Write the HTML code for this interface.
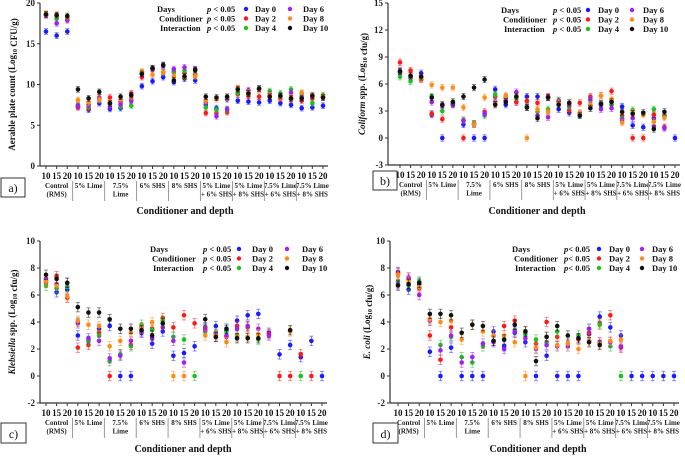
<!DOCTYPE html>
<html><head><meta charset="utf-8">
<style>
html,body{margin:0;padding:0;background:#fff;}
svg{display:block;font-family:"Liberation Serif",serif;font-weight:bold;}
</style></head>
<body>
<svg id="chart" width="685" height="456" viewBox="0 0 685 456" xmlns="http://www.w3.org/2000/svg"></svg>
<script>
// ---------- data ----------
const groups = [["Control","(RMS)"],["5% Lime"],["7.5%","Lime"],["6% SHS"],["8% SHS"],["5% Lime","+ 6% SHS"],["5% Lime","+ 8% SHS"],["7.5% Lime","+ 6% SHS"],["7.5% Lime","+ 8% SHS"]];
const depths = ["10","15","20"];
const seriesNames = ["Day 0","Day 2","Day 4","Day 6","Day 8","Day 10"];
const seriesColors = ["#1a1aff","#ff1a1a","#1fbf1f","#a020f0","#ff8c1a","#111111"];
const N = null;

const aDay0 = [16.5,16.0,16.5, 7.3,6.9,7.7, 7.0,7.1,8.1, 9.8,10.4,10.9, 10.3,10.7,10.5, 7.5,7.1,8.2, 8.0,7.9,7.8, 8.0,7.7,7.5, 7.1,7.2,7.4];
const aDay2 = [18.5,18.4,17.9, 7.2,7.1,8.4, 8.4,7.9,8.9, 10.9,11.9,11.5, 11.5,11.4,11.2, 6.5,6.5,6.6, 8.8,8.6,8.5, 8.6,8.3,8.2, 8.0,8.3,8.4];
const aDay4 = [18.6,18.1,18.2, 7.5,7.3,8.1, 7.6,7.3,7.4, 11.5,12.0,11.5, 11.6,11.7,11.7, 7.2,6.9,6.9, 9.0,8.9,9.4, 9.2,8.9,9.4, 8.9,7.7,8.7];
const aDay6 = [18.5,17.5,17.9, 7.4,7.5,8.2, 7.3,7.6,8.0, 11.3,11.9,12.3, 11.9,12.1,11.9, 7.8,6.1,7.0, 9.5,9.3,9.5, 8.8,8.5,9.0, 8.4,8.6,8.5];
const aDay8 = [18.7,18.6,18.3, 8.1,7.8,8.1, 7.8,8.2,8.5, 11.6,11.2,11.5, 11.0,10.9,11.0, 8.0,8.2,8.4, 9.6,9.0,9.4, 8.7,8.4,8.4, 9.0,8.7,8.5];
const aDay10= [18.6,18.5,18.4, 9.4,8.3,9.1, 7.7,8.5,8.7, 11.3,12.0,12.4, 10.5,11.0,11.8, 8.5,8.4,8.5, 9.4,8.9,9.5, 8.5,8.6,8.3, 8.3,8.6,8.4];

const bDay0 = [7.2,6.7,7.2, 2.6,0,3.7, 1.5,0,0, 5.4,3.7,4.0, 4.6,4.6,4.5, 3.2,2.8,2.6, 3.6,3.7,4.1, 3.5,1.4,1.2, 2.2,2.5,0];
const bDay2 = [8.4,7.5,6.5, 2.7,2.1,3.8, 0,1.6,2.9, 4.6,4.5,4.0, 4.1,3.9,4.6, 4.0,3.1,3.9, 4.6,4.7,5.2, 2.5,0,0, 2.6,1.2,N];
const bDay4 = [6.8,6.3,6.8, 4.6,3.0,4.0, 2.0,1.6,2.5, 4.8,4.6,4.5, 3.5,2.9,3.2, 4.2,3.5,2.6, 4.2,3.8,3.7, 2.2,3.1,N, 3.2,2.4,N];
const bDay6 = [7.5,6.9,6.7, 4.0,3.6,3.8, 1.9,1.5,2.7, 4.0,4.2,5.1, 3.4,2.5,2.3, 4.1,3.7,2.7, 4.3,3.2,3.3, 2.0,2.2,N, 1.3,1.1,N];
const bDay8 = [7.4,6.9,6.6, 5.9,5.6,5.6, 3.4,1.5,4.5, 3.8,4.7,4.6, 0,3.2,2.9, 3.9,3.9,2.8, 3.7,4.7,4.3, 1.7,2.8,2.6, 1.8,2.3,N];
const bDay10= [7.4,6.9,6.8, 4.5,3.7,4.0, 4.6,5.6,6.5, 3.7,4.0,4.6, 3.4,2.2,4.5, 3.7,3.9,2.5, 3.3,3.8,4.0, 2.9,2.7,2.8, 1.0,2.9,N];

const cDay0 = [7.1,6.2,6.4, 3.0,2.6,3.5, 3.7,0,0, 3.2,2.4,3.3, 1.5,1.7,2.2, 3.6,3.7,3.4, 4.1,4.5,4.6, 3.2,1.6,2.3, 1.4,2.6,0];
const cDay2 = [6.9,7.4,5.8, 2.1,2.3,3.2, 0,1.6,2.3, 3.6,3.5,4.3, 3.6,4.5,3.9, 3.5,2.9,2.9, 3.7,3.6,N, 3.1,0,0, 1.6,0,N];
const cDay4 = [6.7,6.5,6.6, 4.0,2.6,3.0, 1.1,1.6,2.2, 3.8,3.4,4.1, 2.9,2.7,0, 3.3,3.2,3.3, 3.0,3.7,2.7, N,N,N, 0,N,N];
const cDay6 = [7.2,6.8,6.9, 3.9,2.8,2.6, 1.3,1.5,2.6, 3.3,2.8,3.6, 2.6,1.0,N, 3.4,3.1,3.0, 3.5,3.7,3.5, 3.0,N,N, N,N,N];
const cDay8 = [7.0,6.7,5.9, 4.1,3.8,3.7, 2.2,2.6,3.2, 3.5,4.0,3.9, 0,0,N, 3.0,3.0,2.5, 2.9,2.9,3.1, N,N,3.3, N,N,N];
const cDay10= [7.5,7.2,6.9, 5.1,4.7,4.7, 4.2,3.5,3.5, 3.4,3.0,3.9, N,N,N, 4.2,2.9,3.5, 2.8,2.8,2.8, N,N,3.4, N,N,N];

const dDay0 = [7.7,6.4,6.8, 1.8,0,2.1, 0,0,0, 3.3,2.2,3.2, 2.5,0,1.5, 0,0,0, 3.1,4.4,3.6, 3.0,0,0, 0,0,0];
const dDay2 = [7.6,7.2,6.5, 3.0,1.2,3.6, N,N,N, 2.6,3.7,4.1, 3.3,2.4,4.0, 2.9,N,2.7, 3.2,3.9,4.5, 2.1,N,N, N,N,N];
const dDay4 = [7.0,6.7,7.0, 4.2,2.3,2.9, 1.4,1.0,2.2, 2.6,2.7,3.4, 3.1,2.7,2.5, 3.3,2.4,3.0, 3.5,3.8,2.2, 0,N,N, N,N,N];
const dDay6 = [6.8,7.3,6.0, 4.1,1.9,3.0, 1.0,1.4,2.4, 2.5,2.0,3.3, 2.8,2.0,2.3, 2.2,2.2,2.8, 3.5,2.5,2.5, 2.2,N,N, N,N,N];
const dDay8 = [7.5,7.0,6.6, 4.2,4.0,4.1, 2.7,3.8,3.3, 3.0,3.0,2.5, 0,2.1,2.9, 2.3,2.4,2.0, 2.6,2.4,2.6, 2.7,N,N, N,N,N];
const dDay10= [6.7,6.8,6.9, 4.6,4.6,4.5, 3.2,3.8,3.7, 2.6,2.7,3.8, 3.3,1.1,2.9, 3.7,3.0,2.8, 2.5,2.3,N, N,N,N, N,N,N];

const aTicks = [0,5,10,15,20];
const bTicks = [-3,0,3,6,9,12,15];
const cTicks = [-2,0,2,4,6,8,10];
const dTicks = [-2,0,2,4,6,8,10];

// ---------- drawing ----------
const NS = "http://www.w3.org/2000/svg";
const svg = document.getElementById("chart");
function mk(tag, attrs, parent){
  const e = document.createElementNS(NS, tag);
  for (const k in attrs) e.setAttribute(k, attrs[k]);
  (parent||svg).appendChild(e);
  return e;
}

const panels = [
  {id:"a", axisX:40, x0:46, x1:323, yTop:3, yBot:166, min:0, max:20, ticks:aTicks,
   series:[aDay0,aDay2,aDay4,aDay6,aDay8,aDay10], titleX:185, titleY:214,
   ytitle:[["","Aerable plate count (Log"],["sub","10"],[""," CFU/g)"]], ytx:15,
   leg:{x:157,y:12,px:207,dx:246,lx:255,d2x:290,l2x:303,dy:9.5,ptext:"p < 0.05"},
   box:[1,178,24,19], label:"a)"},
  {id:"b", axisX:388, x0:400, x1:675, yTop:3, yBot:165, min:-3, max:15, ticks:bTicks,
   series:[bDay0,bDay2,bDay4,bDay6,bDay8,bDay10], titleX:537, titleY:214,
   ytitle:[["i","Coliform"],[""," spp.  (Log"],["sub","10"],[""," cfu/g)"]], ytx:365,
   leg:{x:501,y:13,px:553,dx:588,lx:598,d2x:632,l2x:643,dy:9.5,ptext:"p < 0.05"},
   box:[373,171,24,19], label:"b)"},
  {id:"c", axisX:40, x0:46, x1:322, yTop:241, yBot:403, min:-2, max:10, ticks:cTicks,
   series:[cDay0,cDay2,cDay4,cDay6,cDay8,cDay10], titleX:183, titleY:452,
   ytitle:[["i","Klebsiella"],[""," spp. (Log"],["sub","10"],[""," cfu/g)"]], ytx:15,
   leg:{x:150,y:252,px:203,dx:239,lx:252,d2x:287,l2x:302,dy:9.5,ptext:"p < 0.05"},
   box:[1,423,25,20], label:"c)"},
  {id:"d", axisX:390, x0:398, x1:674, yTop:241, yBot:403, min:-2, max:10, ticks:dTicks,
   series:[dDay0,dDay2,dDay4,dDay6,dDay8,dDay10], titleX:538, titleY:452,
   ytitle:[["i","E. coli"],[""," (Log"],["sub","10"],[""," cfu/g)"]], ytx:370,
   leg:{x:512,y:252,px:564,dx:599,lx:609,d2x:642,l2x:652,dy:9.5,ptext:"p< 0.05"},
   box:[373,423,25,20], label:"d)"}
];

panels.forEach(p=>{
  const g = mk("g",{});
  
  
  const yS = v => p.yBot - (v - p.min)/(p.max - p.min)*(p.yBot - p.yTop);
  const n = groups.length*3;
  const xS = i => p.x0 + i*(p.x1 - p.x0)/(n-1);
  const step = (p.x1-p.x0)/(n-1);

  const ya = mk("line",{x1:p.axisX,y1:p.yTop,x2:p.axisX,y2:p.yBot,stroke:"#333","stroke-width":1.2},g);
  
  
  p.ticks.forEach(t=>{
    mk("line",{x1:p.axisX-3,y1:yS(t),x2:p.axisX,y2:yS(t),stroke:"#333","stroke-width":1},g);
    const tl = mk("text",{x:p.axisX-5,y:yS(t)+3,"text-anchor":"end","font-size":"9",fill:"#222"},g);
    tl.textContent = t;
    
    
  });
  const xa = mk("line",{x1:p.axisX,y1:p.yBot,x2:p.x1+5,y2:p.yBot,stroke:"#333","stroke-width":1.2},g);
  
  
  for(let i=0;i<n;i++){
    mk("line",{x1:xS(i),y1:p.yBot,x2:xS(i),y2:p.yBot+3,stroke:"#333","stroke-width":1},g);
    const tl = mk("text",{x:xS(i),y:p.yBot+13,"text-anchor":"middle","font-size":"9",fill:"#111"},g);
    tl.textContent = depths[i%3];
    
    
  }
  groups.forEach((gr,k)=>{
    const cx = xS(3*k+1);
    gr.forEach((ln,j)=>{
      const t = mk("text",{x:cx,y:p.yBot+22+j*8.5,"text-anchor":"middle","font-size":"7",fill:"#222"},g);
      t.textContent = ln;
      
      
    });
    if(k>0){
      const sx = xS(3*k) - step/2;
      mk("line",{x1:sx,y1:p.yBot+15,x2:sx,y2:p.yBot+35,stroke:"#999","stroke-width":1},g);
    }
  });
  const xt = mk("text",{x:p.titleX,y:p.titleY,"text-anchor":"middle","font-size":"10",fill:"#111"},g);
  xt.textContent = "Conditioner and  depth";
  
  
  const cy = (p.yTop+p.yBot)/2;
  const yt = mk("text",{x:p.ytx,y:cy,"text-anchor":"middle","font-size":"9",fill:"#111",transform:`rotate(-90 ${p.ytx} ${cy})`},g);
  
  
  p.ytitle.forEach(([kind,txt])=>{
    const ts = mk("tspan",{},yt);
    if(kind==="i") ts.setAttribute("font-style","italic");
    if(kind==="sub"){ ts.setAttribute("font-size","6"); ts.setAttribute("dy","2"); }
    ts.textContent = txt;
    if(kind==="sub"){ const r = mk("tspan",{dy:"-2"},yt); r.textContent=""; }
  });
  const br = mk("rect",{x:p.box[0],y:p.box[1],width:p.box[2],height:p.box[3],fill:"#fff",stroke:"#333","stroke-width":1},g);
  
  
  const bl = mk("text",{x:p.box[0]+p.box[2]/2,y:p.box[1]+p.box[3]-5,"text-anchor":"middle","font-size":"12","font-weight":"normal",fill:"#111"},g);
  bl.textContent = p.label;
  
  

  p.series.forEach((arr,s)=>{
    const sg = mk("g",{},g);
    
    
    arr.forEach((v,i)=>{
      if(v===null) return;
      const x = xS(i), y = yS(v);
      const e = 0.35*(p.yBot-p.yTop)/(p.max-p.min);
      mk("line",{x1:x,y1:y-e,x2:x,y2:y+e,stroke:seriesColors[s],"stroke-width":0.8,opacity:0.6},sg);
      mk("line",{x1:x-2,y1:y-e,x2:x+2,y2:y-e,stroke:seriesColors[s],"stroke-width":0.8,opacity:0.6},sg);
      mk("line",{x1:x-2,y1:y+e,x2:x+2,y2:y+e,stroke:seriesColors[s],"stroke-width":0.8,opacity:0.6},sg);
      const c = mk("circle",{cx:x,cy:y,r:2.3,fill:seriesColors[s]},sg);
      
      
    });
  });

  const L = p.leg;
  const lg = mk("g",{"font-size":"8.5",fill:"#111"},g);
  
  
  ["Days","Conditioner","Interaction"].forEach((lab,r)=>{
    const t = mk("text",{x:L.x + (r===0?0:(r===1?2:3)),y:L.y+r*L.dy},lg);
    t.textContent = lab;
    
    
    const pt = mk("text",{x:L.px,y:L.y+r*L.dy},lg);
    const pi = mk("tspan",{"font-style":"italic"},pt); pi.textContent = "p";
    const pr = mk("tspan",{},pt); pr.textContent = L.ptext.slice(1);
    
    
  });
  seriesNames.forEach((nm,s)=>{
    const col = s<3?0:1, row = s%3;
    const dx = col===0?L.dx:L.d2x, lx = col===0?L.lx:L.l2x;
    const yy = L.y + row*L.dy;
    mk("circle",{cx:dx,cy:yy-3,r:2.2,fill:seriesColors[s]},lg);
    const t = mk("text",{x:lx,y:yy},lg);
    t.textContent = nm;
    
    
  });
});
</script>
</body></html>
